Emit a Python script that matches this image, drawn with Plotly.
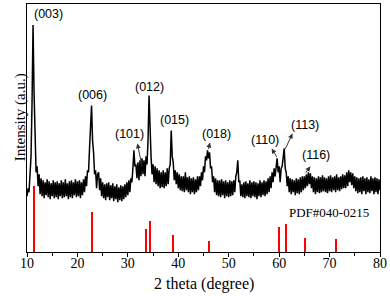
import numpy as np
import plotly.graph_objects as go

# XRD scan: 2-theta from 10 to 80 deg in 0.2 deg steps (intensity in a.u.)
two_theta_start = 10.0
two_theta_step = 0.2
intensity = [
    56, 64, 60, 74, 96,      # 10
    150, 228, 160, 104, 80,  # 11
    86, 66, 78, 58, 74,      # 12
    56, 72, 54, 70, 57,      # 13
    73, 55, 71, 53, 69,      # 14
    56, 72, 54, 70, 55,      # 15
    71, 53, 69, 56, 72,      # 16
    54, 70, 55, 73, 56,      # 17
    69, 53, 71, 55, 72,      # 18
    54, 70, 57, 73, 55,      # 19
    71, 56, 72, 54, 70,      # 20
    57, 73, 60, 76, 66,      # 21
    82, 80, 104, 120, 147,   # 22
    112, 100, 78, 82, 64,    # 23
    78, 80, 62, 74, 56,      # 24
    70, 54, 68, 52, 69,      # 25
    55, 70, 52, 67, 54,      # 26
    69, 51, 66, 53, 68,      # 27
    50, 65, 52, 67, 51,      # 28
    66, 53, 68, 55, 70,      # 29
    57, 72, 60, 74, 70,      # 30
    84, 102, 86, 88, 74,     # 31
    90, 72, 92, 76, 94,      # 32
    78, 92, 76, 96, 88,      # 33
    112, 157, 114, 96, 78,   # 34
    88, 70, 86, 68, 84,      # 35
    66, 82, 64, 80, 65,      # 36
    82, 64, 80, 66, 84,      # 37
    68, 84, 88, 122, 96,     # 38
    90, 72, 82, 68, 80,      # 39
    64, 78, 62, 76, 61,      # 40
    76, 60, 80, 62, 75,      # 41
    60, 76, 58, 74, 60,      # 42
    75, 58, 73, 60, 76,      # 43
    62, 76, 66, 80, 72,      # 44
    86, 80, 96, 92, 102,     # 45
    94, 100, 84, 86, 70,     # 46
    76, 60, 74, 57, 72,      # 47
    56, 72, 55, 73, 57,      # 48
    71, 54, 72, 56, 70,      # 49
    55, 72, 56, 71, 57,      # 50
    72, 60, 76, 80, 92,      # 51
    70, 72, 56, 68, 55,      # 52
    70, 54, 71, 56, 69,      # 53
    55, 72, 54, 70, 56,      # 54
    71, 55, 70, 53, 69,      # 55
    56, 72, 55, 70, 57,      # 56
    72, 56, 71, 58, 74,      # 57
    60, 76, 64, 80, 70,      # 58
    84, 76, 90, 94, 80,      # 59
    86, 70, 84, 86, 98,      # 60
    104, 84, 80, 66, 76,     # 61
    60, 74, 58, 73, 60,      # 62
    72, 57, 74, 59, 73,      # 63
    58, 75, 60, 76, 62,      # 64
    76, 64, 78, 66, 80,      # 65
    68, 79, 64, 76, 60,      # 66
    75, 58, 74, 60, 76,      # 67
    59, 75, 60, 77, 61,      # 68
    75, 60, 74, 59, 76,      # 69
    61, 77, 60, 75, 62,      # 70
    76, 60, 78, 62, 75,      # 71
    61, 76, 63, 78, 64,      # 72
    77, 64, 80, 66, 82,      # 73
    70, 80, 67, 79, 64,      # 74
    76, 61, 75, 59, 74,      # 75
    60, 75, 58, 76, 61,      # 76
    74, 58, 75, 60, 73,      # 77
    59, 76, 61, 74, 58,      # 78
    75, 60, 74, 58, 73,      # 79
    62,                      # 80
]
two_theta = two_theta_start + two_theta_step * np.arange(len(intensity))

# Standard card PDF#040-0215 reference lines
pdf_positions = [11.35, 22.95, 33.6, 34.4, 39.0, 46.0, 59.9, 61.3, 65.2, 71.2]
pdf_intensity = [66, 40, 23, 31, 17, 11, 25, 28, 14, 13]
pdf_label = "PDF#040-0215"

# Miller-index labels and their arrows (arrow head near the label, tail at the peak)
peak_labels = ["(003)", "(006)", "(012)", "(015)", "(101)", "(018)", "(110)", "(113)", "(116)"]
label_x = [14.24, 23.02, 34.26, 39.19, 30.32, 47.48, 57.14, 65.03, 67.4]
label_y = [239, 158, 166, 133, 118, 118, 112, 128, 97]
arrow_head_x = [31.89, 46.29, 58.52, 62.66, 66.2]
arrow_head_y = [109, 110, 104, 119, 86]
arrow_tail_x = [32.88, 45.9, 59.7, 61.08, 65.03]
arrow_tail_y = [84, 102, 94, 102, 78]

SERIF = "Liberation Serif, Times New Roman, serif"
SANS = "Liberation Sans, Arial, sans-serif"

fig = go.Figure()
fig.add_trace(go.Bar(x=pdf_positions, y=pdf_intensity, width=0.4,
                     marker=dict(color="#ff0000", line=dict(width=0)), hoverinfo="skip"))
fig.add_trace(go.Scatter(x=two_theta, y=intensity, mode="lines",
                         line=dict(color="black", width=1.5)))

annotations = []
for t, xx, yy in zip(peak_labels, label_x, label_y):
    annotations.append(dict(x=xx, y=yy, xref="x", yref="y", text=t, showarrow=False,
                            font=dict(family=SANS, size=12.5, color="black")))
for hx, hy, tx, ty in zip(arrow_head_x, arrow_head_y, arrow_tail_x, arrow_tail_y):
    annotations.append(dict(x=hx, y=hy, xref="x", yref="y", ax=tx, ay=ty, axref="x", ayref="y",
                            text="", showarrow=True, arrowhead=2, arrowsize=1, arrowwidth=1,
                            arrowcolor="#333333", standoff=0, startstandoff=0))
annotations.append(dict(x=69.96, y=40, xref="x", yref="y", text=pdf_label, showarrow=False,
                        font=dict(family=SERIF, size=13, color="black")))
annotations.append(dict(x=-0.048, y=0.542, xref="paper", yref="paper", text="Intensity (a.u.)",
                        textangle=-90, showarrow=False, font=dict(family=SERIF, size=15, color="black")))
annotations.append(dict(x=0.5, y=-0.1285, xref="paper", yref="paper", text="2 theta (degree)",
                        showarrow=False, yanchor="middle", font=dict(family=SERIF, size=16, color="black")))

fig.update_layout(
    width=390, height=296,
    margin=dict(l=27, r=8, t=3, b=44),
    plot_bgcolor="white", paper_bgcolor="white",
    showlegend=False, bargap=0,
    annotations=annotations,
    xaxis=dict(range=[10, 80], tick0=10, dtick=10, showline=True, linecolor="black", linewidth=1,
               mirror=True, ticks="outside", ticklen=4, tickcolor="black", showgrid=False, zeroline=False,
               ticklabelstandoff=-6,
               tickfont=dict(family=SERIF, size=14, color="black"),
               minor=dict(dtick=5, ticks="outside", ticklen=3, tickcolor="black", showgrid=False)),
    yaxis=dict(range=[0, 249], showline=True, linecolor="black", linewidth=1, mirror=True,
               showticklabels=False, ticks="", showgrid=False, zeroline=False),
)

fig.write_html("out.html", config={"displayModeBar": False},
               post_script="document.body.style.margin='0';document.body.style.padding='0';")
